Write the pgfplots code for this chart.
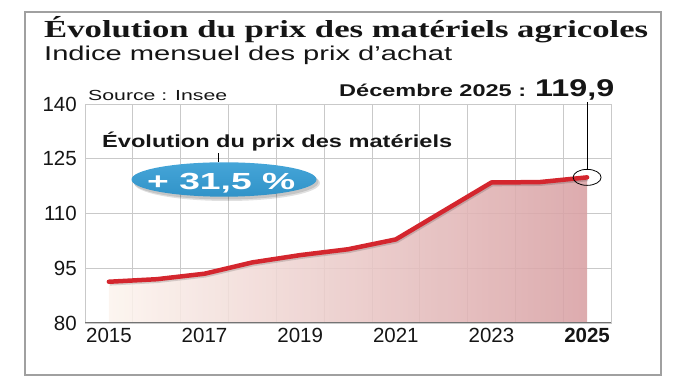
\documentclass[border=0pt]{standalone}
\usepackage{pgfplots}
\usepackage{pgfplotstable}
\pgfplotsset{compat=1.18}
\usepackage{fontspec}
\usepackage{graphicx}
\setmainfont{Liberation Sans}
\newfontfamily\serifbold{Liberation Serif}
\definecolor{txt}{HTML}{151515}
\definecolor{gridc}{HTML}{C9C9C9}
\definecolor{framec}{HTML}{A0A0A0}
\definecolor{linered}{HTML}{D4262E}
\definecolor{fillL}{HTML}{FCF4EE}
\definecolor{fillR}{HTML}{D8A0A3}
\definecolor{bubbleT}{HTML}{45A5D8}
\definecolor{bubbleB}{HTML}{3193C8}

\pgfplotstableread{
year val
2015 91.3
2016 92.0
2017 93.5
2018 96.6
2019 98.6
2020 100.2
2021 102.9
2022 110.7
2023 118.5
2024 118.6
2025 119.9
}\prixtable

\begin{document}
\begin{tikzpicture}
\useasboundingbox (0pt,0pt) rectangle (690pt,387pt);
\draw[framec, line width=2.5pt] (25pt,12pt) rectangle (661pt,375pt);

\node[anchor=base west, inner sep=0pt, text=txt] at (44pt,349.7pt)
  {\resizebox{604pt}{\height}{\serifbold\bfseries\fontsize{24.5pt}{28pt}\selectfont Évolution du prix des matériels agricoles}};
\node[anchor=base west, inner sep=0pt, text=txt] at (44pt,326pt)
  {\resizebox{408pt}{\height}{\fontsize{20pt}{24pt}\selectfont Indice mensuel des prix d’achat}};
\node[anchor=base west, inner sep=0pt, text=txt] at (88pt,286pt)
  {\resizebox{139pt}{\height}{\fontsize{14.6pt}{17pt}\selectfont Source : Insee}};
\node[anchor=base west, inner sep=0pt, text=txt] at (339pt,290.3pt)
  {\resizebox{187pt}{\height}{\bfseries\fontsize{17pt}{20pt}\selectfont Décembre 2025 :}};
\node[anchor=base west, inner sep=0pt, text=txt] at (535pt,290.3pt)
  {\resizebox{79pt}{\height}{\bfseries\fontsize{24.2pt}{28pt}\selectfont 119,9}};

\begin{axis}[
  at={(85pt,64pt)}, anchor=south west,
  scale only axis, width=526pt, height=219pt,
  xmin=2014.5, xmax=2025.5, ymin=80, ymax=140,
  xtick={2015,2017,2019,2021,2023,2025},
  xticklabels={2015,2017,2019,2021,2023,\textbf{2025}},
  ytick={80,95,110,125,140},
  yticklabels={80,95,110,125,140},
  minor xtick={2015.5,2016.5,2017.5,2018.5,2019.5,2020.5,2021.5,2022.5,2023.5,2024.5},
  xminorgrids=true, ymajorgrids=true, xmajorgrids=false,
  major grid style={gridc, line width=0.8pt},
  minor grid style={gridc, line width=0.8pt},
  major tick length=0pt, minor tick length=0pt,
  axis line style={gridc, line width=0.8pt},
  tick label style={font=\fontsize{20.5pt}{24pt}\selectfont, text=txt},
  xticklabel style={inner sep=0pt, yshift=-5pt},
  yticklabel style={inner sep=0pt, xshift=-8pt},
  /pgf/number format/assume math mode=true,
]
\addplot[draw=none, left color=fillL, right color=fillR, fill opacity=0.88]
  table[x=year,y=val]{\prixtable} \closedcycle;
\addplot[black, opacity=0.15, line width=4.5pt, line join=round, xshift=0.8pt, yshift=-1.6pt]
  table[x=year,y=val]{\prixtable};
\addplot[linered, line width=4.5pt, line join=round, line cap=round]
  table[x=year,y=val]{\prixtable};
\draw[black!55, line width=1.4pt] ([xshift=-2pt]axis cs:2014.5,80) -- (axis cs:2025.5,80);
\coordinate (endpt) at (axis cs:2025,119.9);
\end{axis}

\draw[black, line width=0.8pt] (endpt) ellipse [x radius=14pt, y radius=8pt];
\draw[black, line width=1pt] ([yshift=8pt]endpt) -- ++(0pt,67pt);

\node[anchor=base west, inner sep=0pt, text=txt] at (102pt,239pt)
  {\resizebox{350pt}{\height}{\bfseries\fontsize{17.5pt}{21pt}\selectfont Évolution du prix des matériels}};
\draw[black, line width=1pt] (218pt,233.7pt) -- (218pt,225pt);
\fill[black, opacity=0.12] (227pt,204pt) ellipse [x radius=93pt, y radius=18pt];
\fill[black, opacity=0.12] (226pt,205pt) ellipse [x radius=92.5pt, y radius=17.5pt];
\shade[top color=bubbleT, bottom color=bubbleB] (224pt,207.5pt) ellipse [x radius=92.5pt, y radius=17.2pt];
\node[anchor=base west, inner sep=0pt, text=white] at (147pt,197pt)
  {\resizebox{148pt}{\height}{\bfseries\fontsize{23.3pt}{27pt}\selectfont + 31,5 \%}};
\end{tikzpicture}
\end{document}
